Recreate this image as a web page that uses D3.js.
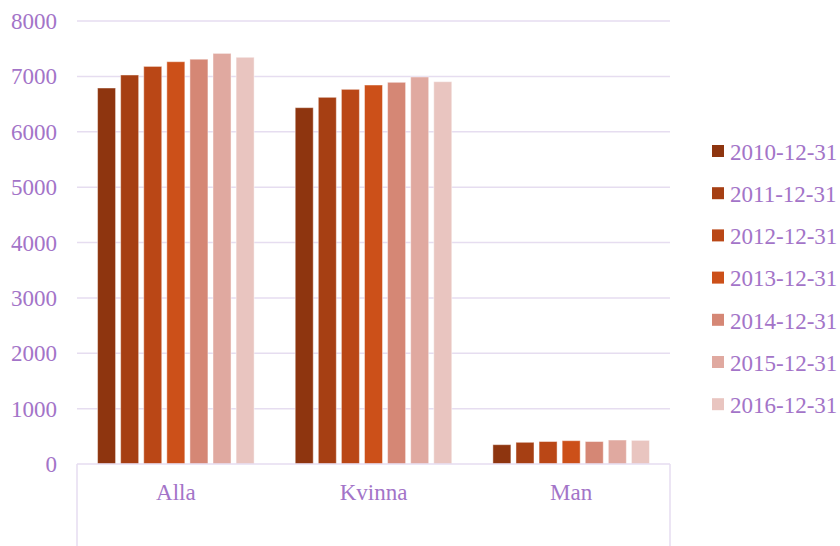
<!DOCTYPE html>
<html>
<head>
<meta charset="utf-8">
<script src="https://cdn.jsdelivr.net/npm/d3@7"></script>
<style>
  body { margin: 0; background: #fff; }
  text { font-family: "Liberation Serif", "Times New Roman", serif; fill: #A374C8; }
</style>
</head>
<body>
<script>
'use strict';

// Data ==========================================
var categories = ['Alla', 'Kvinna', 'Man'];
var seriesNames = ['2010-12-31', '2011-12-31', '2012-12-31', '2013-12-31', '2014-12-31', '2015-12-31', '2016-12-31'];
var seriesColors = ['#8E350F', '#A63F13', '#BA4716', '#CC5019', '#D58775', '#E0A9A0', '#E9C5C0'];
var valuesAlla = [6790, 7025, 7180, 7265, 7310, 7415, 7345];
var valuesKvinna = [6435, 6622, 6766, 6844, 6893, 6989, 6904];
var valuesMan = [349, 392, 406, 421, 406, 433, 427];
var yTicks = [0, 1000, 2000, 3000, 4000, 5000, 6000, 7000, 8000];

var values = [valuesAlla, valuesKvinna, valuesMan];

// Sizing ========================================
var width = 840, height = 546;
var plotLeft = 77, plotRight = 670, plotTop = 21, plotBottom = 464;
var fontSize = '23px';

var svg = d3.select('body').append('svg')
    .attr('width', width)
    .attr('height', height);

var y = d3.scaleLinear().domain([0, 8000]).range([plotBottom, plotTop]);
var x0 = d3.scaleBand().domain(categories).range([plotLeft, plotRight]).padding(0);
var x1 = d3.scaleBand().domain(seriesNames).range([0, x0.bandwidth()])
    .paddingInner(0.22).paddingOuter(0.89);

// gridlines
svg.append('g').selectAll('line')
  .data(yTicks.slice(1))
  .enter().append('line')
  .attr('x1', plotLeft).attr('x2', plotRight)
  .attr('y1', function (d) { return y(d); })
  .attr('y2', function (d) { return y(d); })
  .attr('stroke', '#E6DDF0')
  .attr('stroke-width', 1.5);

// y tick labels
svg.append('g').selectAll('text')
  .data(yTicks)
  .enter().append('text')
  .attr('x', 57)
  .attr('y', function (d) { return y(d); })
  .attr('dy', '0.35em')
  .attr('text-anchor', 'end')
  .style('font-size', fontSize)
  .text(function (d) { return d; });

// bars
var groups = svg.append('g').selectAll('g')
  .data(categories)
  .enter().append('g')
  .attr('transform', function (d) { return 'translate(' + x0(d) + ',0)'; });

groups.selectAll('rect')
  .data(function (d, i) {
    return seriesNames.map(function (s, j) { return { s: s, v: values[i][j], c: seriesColors[j] }; });
  })
  .enter().append('rect')
  .attr('x', function (d) { return x1(d.s); })
  .attr('width', x1.bandwidth())
  .attr('y', function (d) { return y(d.v); })
  .attr('height', function (d) { return plotBottom - y(d.v); })
  .attr('fill', function (d) { return d.c; })
  .attr('stroke', 'rgba(255,255,255,0.45)')
  .attr('stroke-width', 1);

// category axis
var axisG = svg.append('g');
axisG.append('line')
  .attr('x1', plotLeft).attr('x2', plotRight)
  .attr('y1', plotBottom).attr('y2', plotBottom)
  .attr('stroke', '#E6DDF0').attr('stroke-width', 1.5);
[plotLeft, plotRight].forEach(function (xx) {
  axisG.append('line')
    .attr('x1', xx).attr('x2', xx)
    .attr('y1', plotBottom).attr('y2', height)
    .attr('stroke', '#E6DDF0').attr('stroke-width', 1.5);
});

axisG.selectAll('text')
  .data(categories)
  .enter().append('text')
  .attr('x', function (d) { return x0(d) + x0.bandwidth() / 2; })
  .attr('y', 500)
  .attr('text-anchor', 'middle')
  .style('font-size', fontSize)
  .text(function (d) { return d; });

// legend
var legend = svg.append('g').selectAll('g')
  .data(seriesNames)
  .enter().append('g')
  .attr('transform', function (d, i) { return 'translate(712,' + (151 + i * 42.2) + ')'; });

legend.append('rect')
  .attr('x', 0).attr('y', -6)
  .attr('width', 12).attr('height', 12)
  .attr('fill', function (d, i) { return seriesColors[i]; });

legend.append('text')
  .attr('x', 18)
  .attr('y', 0)
  .attr('dy', '0.38em')
  .style('font-size', fontSize)
  .text(function (d) { return d; });
</script>
</body>
</html>
